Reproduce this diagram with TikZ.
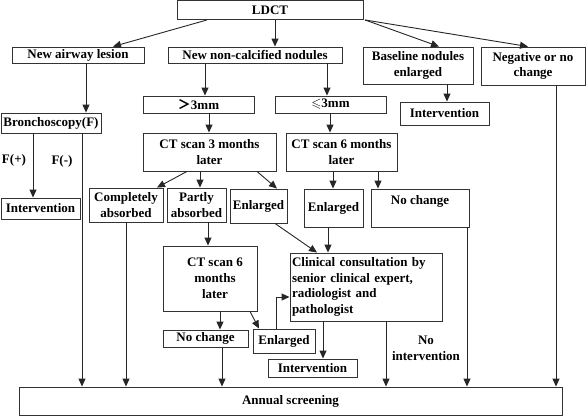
\documentclass[tikz,border=0pt]{standalone}
\usepackage{amssymb}
\usepackage{fontspec}
\setmainfont{Liberation Serif}
\newfontfamily\cjk{Noto Sans CJK SC}
\usetikzlibrary{arrows.meta}
\begin{document}
\begin{tikzpicture}[x=1pt,y=-1pt,
  font=\bfseries\fontsize{13}{15.8}\selectfont,
  box/.style={draw=black!80, line width=0.9pt, inner sep=1pt, align=center},
  arr/.style={draw=black!85, line width=0.9pt, -{Triangle[length=8pt,width=7pt]}},
  ln/.style={draw=black!85, line width=0.9pt},
  lbl/.style={inner sep=0pt, align=center}]
\useasboundingbox (0,0) rectangle (586,416);
% boxes
\node[box, minimum width=186pt, minimum height=19pt] (ldct) at (270,10) {LDCT};
\node[box, minimum width=132pt, minimum height=16pt] (airway) at (78,55) {New airway lesion};
\node[box, minimum width=174pt, minimum height=16pt] (nod) at (255,55) {New non-calcified nodules};
\node[box, minimum width=110pt, minimum height=37pt] (base) at (418,65.5) {Baseline nodules\\enlarged};
\node[box, minimum width=104pt, minimum height=38pt] (neg) at (533,66) {Negative or no\\change};
\node[box, minimum width=89pt, minimum height=23pt] (intR) at (444.5,113.5) {Intervention};
\node[box, minimum width=111pt, minimum height=17pt] (gt) at (198.5,104.5) {{\cjk ＞}3mm};
\node[box, minimum width=111pt, minimum height=17pt] (le) at (330.5,104.5) {$\leqslant$3mm};
\node[box, minimum width=100pt, minimum height=20pt] (bron) at (51,123) {Bronchoscopy(F)};
\node[box, minimum width=79pt, minimum height=21pt] (intL) at (40.5,208.5) {Intervention};
\node[box, minimum width=133pt, minimum height=38pt] (ct3) at (209.5,152) {CT scan 3 months\\later};
\node[box, minimum width=111pt, minimum height=38pt] (ct6r) at (341.5,152) {CT scan 6 months\\later};
\node[box, minimum width=74pt, minimum height=34pt] (compl) at (126,205) {Completely\\absorbed};
\node[box, minimum width=59pt, minimum height=34pt] (partly) at (196.5,205) {Partly\\absorbed};
\node[box, minimum width=57pt, minimum height=34pt] (enlL) at (258.5,206) {Enlarged};
\node[box, minimum width=59pt, minimum height=38pt] (enlR) at (333.5,208) {Enlarged};
\node[box, minimum width=98pt, minimum height=38pt] (nochR) at (420,208) {No change\\~};
\node[box, minimum width=94pt, minimum height=65pt] (ct6m) at (210,278.5) {\hspace*{10pt}CT scan 6\\\hspace*{10pt}months\\\hspace*{10pt}later};
\node[box, minimum width=152pt, minimum height=68pt, text width=148pt, align=left] (clin) at (366,287) {Clinical consultation by\\senior clinical expert,\\radiologist and\\pathologist};
\node[box, minimum width=85pt, minimum height=17pt] (nochM) at (205.5,338.5) {No change};
\node[box, minimum width=62pt, minimum height=24pt] (enlB) at (284,341) {Enlarged};
\node[box, minimum width=89pt, minimum height=18pt] (intB) at (312.5,368) {Intervention};
\node[box, minimum width=543pt, minimum height=28pt] (annual) at (290.5,401) {Annual screening};
% labels
\node[lbl] (fp) at (14,160) {F(+)};
\node[lbl] (fm) at (62,161) {F(-)};
\node[lbl] (noint) at (426,348) {No\\intervention};
% connectors from LDCT
\draw[arr] (ldct.south -| 207,0) -- (airway.north -| 113,0);
\draw[arr] (ldct.south -| 275,0) -- (nod.north -| 275,0);
\draw[arr] (ldct.south -| 365,0) -- (base.north -| 439,0);
\draw[arr] (ldct.south -| 365,0) -- (neg.north -| 528,0);
% left branch
\draw[arr] (airway.south -| 86,0) -- (bron.north -| 86,0);
\draw[arr] (bron.south -| 33,0) -- (intL.north -| 33,0);
\draw[arr] (bron.south -| 82,0) -- (annual.north -| 82,0);
% nodules
\draw[arr] (nod.south -| 205,0) -- (gt.north -| 205,0);
\draw[arr] (nod.south -| 327,0) -- (le.north -| 327,0);
\draw[arr] (gt.south -| 209,0) -- (ct3.north -| 209,0);
\draw[arr] (le.south -| 330,0) -- (ct6r.north -| 330,0);
\draw[arr] (base.south -| 447,0) -- (intR.north -| 447,0);
% CT3 outcomes
\draw[arr] (ct3.south -| 187,0) -- (compl.north -| 157,0);
\draw[arr] (ct3.south -| 200,0) -- (partly.north -| 200,0);
\draw[arr] (ct3.south -| 257,0) -- (enlL.north -| 277,0);
% CT6 right outcomes
\draw[arr] (ct6r.south -| 333,0) -- (enlR.north -| 333,0);
\draw[arr] (ct6r.south -| 378,0) -- (nochR.north -| 378,0);
% to annual
\draw[arr] (compl.south -| 126,0) -- (annual.north -| 126,0);
\draw[arr] (nochM.south -| 222,0) -- (annual.north -| 222,0);
\draw[arr] (clin.south -| 386,0) -- (annual.north -| 386,0);
\draw[arr] (nochR.south -| 467,0) -- (annual.north -| 467,0);
\draw[arr] (neg.south -| 556,0) -- (annual.north -| 556,0);
% partly -> ct6m
\draw[arr] (partly.south -| 208,0) -- (ct6m.north -| 208,0);
% to clinical
\draw[arr] (enlL.south -| 275,0) -- (clin.north -| 317,0);
\draw[arr] (enlR.south -| 328,0) -- (clin.north -| 328,0);
% ct6m outcomes
\draw[arr] (ct6m.south -| 220,0) -- (nochM.north -| 220,0);
\draw[arr] (ct6m.south -| 250,0) -- (enlB.north -| 259,0);
\draw[arr] (enlB.north -| 276,0) |- (clin.west |- 0,297);
\draw[arr] (clin.south -| 323,0) -- (intB.north -| 323,0);
\end{tikzpicture}
\end{document}
